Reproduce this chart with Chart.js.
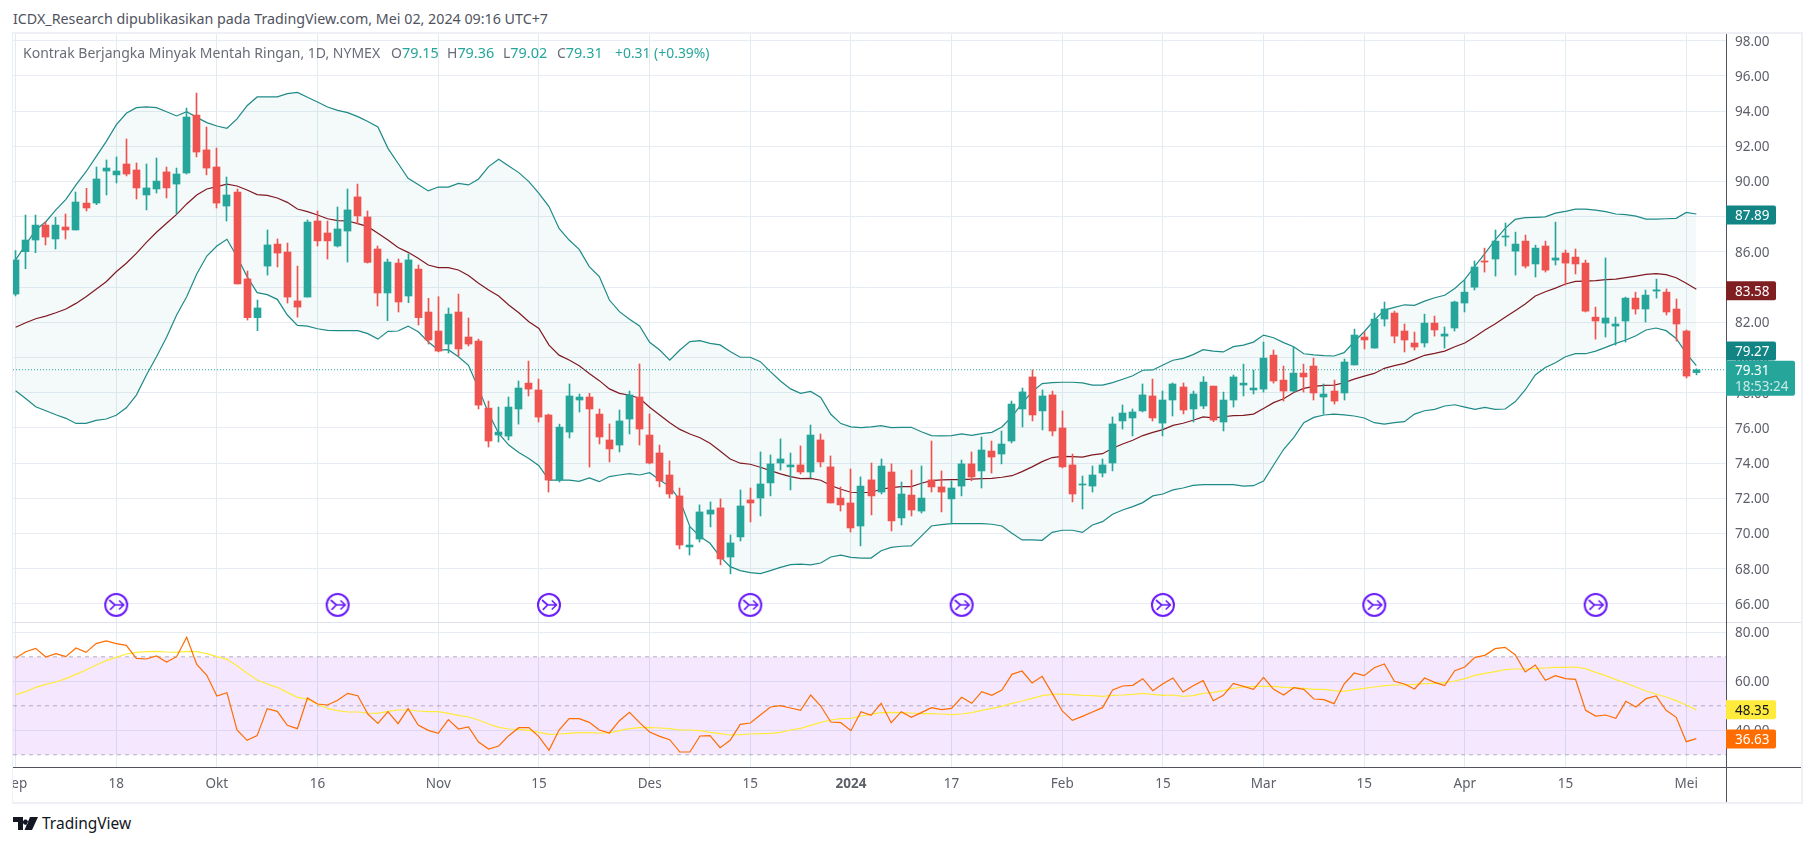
<!DOCTYPE html>
<html><head><meta charset="utf-8">
<script src="https://cdn.jsdelivr.net/npm/chart.js@4"></script>
<style>
html,body{margin:0;padding:0;background:#fff;width:1815px;height:846px;overflow:hidden;font-family:"Noto Sans",sans-serif}
#frame{position:absolute;left:12px;top:32px;width:1788px;height:768px;border:1px solid #eef0f5;border-top:2px solid #eef0f5;border-bottom:2px solid #eef0f5;border-right:2px solid #eef0f5}
#c{position:absolute;left:13px;top:34px}
.t{position:absolute;white-space:nowrap}
#pub{left:13px;top:9px;font-size:14.27px;color:#50535e}
.lg{top:43px;font-size:14px;color:#6a6d78}
.lg b{font-weight:400;color:#26a69a;font-size:14.4px}
.lg b.s{font-size:13.9px}
#tv{left:42px;top:812px;font-size:15.5px;color:#131722}
</style></head><body>
<div id="frame"></div>
<canvas id="c" width="1788" height="768"></canvas>
<div class="t" id="pub">ICDX_Research dipublikasikan pada TradingView.com, Mei 02, 2024 09:16 UTC+7</div>
<div class="t lg" style="left:23px">Kontrak Berjangka Minyak Mentah Ringan, 1D, NYMEX</div>
<div class="t lg" style="left:391px">O<b>79.15</b></div>
<div class="t lg" style="left:447px">H<b>79.36</b></div>
<div class="t lg" style="left:503px">L<b>79.02</b></div>
<div class="t lg" style="left:557px">C<b>79.31</b></div>
<div class="t lg" style="left:615px"><b class="s">+0.31 (+0.39%)</b></div>
<svg style="position:absolute;left:13px;top:817px" width="25" height="13" viewBox="0 0 25 13"><path fill="#131722" d="M0 0h10v13H5V5H0zM17 0h8l-6 13h-7.5zM12.5 2.6a2.6 2.6 0 1 0 .01 0z"/></svg>
<div class="t" id="tv">TradingView</div>
<script>
const opens=[83.61,86.02,86.68,87.53,86.74,87.42,87.25,88.78,88.78,90.6,90.38,91.0,90.66,89.24,89.58,90.55,89.86,90.49,93.78,91.8,90.83,88.61,89.41,84.47,82.27,85.2,86.45,86,83.22,83.44,87.76,87.08,86.34,87.19,89.13,87.99,86.17,83.67,85.37,83.5,85.03,82.59,81.51,80.77,82.59,81.17,80.94,77.13,75.6,75.54,77.08,78.55,78.16,76.74,73.04,75.77,77.59,77.76,76.79,
75.32,75.03,76.51,77.76,75.6,74.58,73.33,72.14,69.24,69.69,71.11,71.46,68.67,69.81,71.91,72.02,72.88,74.01,73.79,73.9,73.5,75.32,73.79,72.02,71.74,70.43,73.05,72.36,73.5,70.89,72.19,71.28,73.05,72.65,71.97,72.7,73.96,73.56,74.69,74.52,75.26,77.08,78.9,76.97,77.88,76,73.9,72.76,72.7,73.44,74.01,76.4,76.57,76.97,77.82,76.28,77.59,78.33,77.08,77.25,
78.38,76.34,77.59,78.44,78.16,78.21,80.14,78.72,78.1,79.12,79.52,77.76,78.1,77.99,79.58,81.17,80.54,82.19,82.53,81.51,80.83,80.83,81.96,81.22,81.68,83.1,84.0,85.49,85.6,86.85,86.05,86.62,85.32,86.34,85.54,85.94,85.71,85.37,82.3,81.96,81.79,82.08,83.38,82.76,83.78,83.72,82.76,81.51,79.15];
const highs=[86.08,88.1,88.1,87.72,87.97,88.16,89.41,89.62,90.83,91.23,91.4,92.42,91.06,91.0,91.34,90.83,90.77,94.18,95.03,93.1,91.91,90.26,89.58,84.92,83.27,87.25,86.74,86.51,85.2,87.82,88.33,87.76,88.56,89.58,89.86,88.33,86.34,85.6,85.6,85.89,85.26,83.37,83.46,82.82,83.61,82.25,81.05,77.53,77.19,77.76,78.67,79.8,78.78,76.79,76.22,78.5,77.93,77.97,77.08,
76.23,77.02,78.1,79.64,76.8,75.03,74.13,72.59,70.38,71.63,71.8,71.97,69.92,72.48,72.59,74.64,74.47,75.38,74.58,74.98,76.17,75.66,74.41,72.65,73.67,73.22,74.01,74.24,73.96,72.93,73.61,73.84,75.26,73.56,73.0,74.18,74.64,75.49,75.26,75.83,77.53,78.27,79.3,78.16,78.1,76.97,74.52,73.27,73.84,74.24,76.63,77.31,77.08,78.5,78.78,78.1,78.56,78.56,78.1,78.92,
78.38,78.04,79.01,79.63,79.29,80.88,80.43,79.52,80.6,79.63,79.97,78.5,78.72,79.92,81.62,81.45,82.53,83.16,82.64,81.91,81.45,82.47,82.36,81.74,83.21,84.41,85.49,86.22,87.25,87.65,87.13,86.96,86.39,86.62,87.7,86.11,86.17,85.54,82.87,85.66,82.3,83.44,83.72,83.84,84.46,83.9,83.33,81.57,79.36];
const lows=[83.5,85.05,85.96,86.4,86.17,86.74,87.25,88.33,88.69,89.24,89.92,90.32,89.01,88.39,89.35,89.07,88.16,90.43,91.4,90.38,88.5,87.76,84.18,82.13,81.53,84.69,85.15,83.1,82.3,83.44,86.34,85.6,86.28,85.43,87.59,85.37,82.93,82.1,82.59,83.12,81.85,80.77,80.32,80.26,80.09,80.66,77.08,74.92,75.2,75.32,76.22,77.82,76.34,72.36,72.93,75.43,76.91,73.78,75.09,
74.07,74.64,75.66,75.03,73.96,72.65,72.02,69.13,68.78,69.52,70.38,68.22,67.71,69.58,70.66,71.0,72.14,73.61,72.48,73.39,73.16,73.79,71.74,71.28,70.09,69.3,71.06,72.25,70.15,70.49,71.0,71.17,72.36,71.23,70.55,72.14,73.0,72.59,73.44,73.96,75.15,76.06,76.4,75.89,75.55,73.73,71.8,71.4,72.36,73.22,73.56,75.94,75.55,76.91,76.4,75.55,76.68,76.8,76.34,77.1,
76.36,75.83,77.19,77.82,77.93,78.04,78.55,77.53,78.04,78.04,77.59,76.79,77.36,77.59,79.58,80.49,80.54,81.79,80.83,80.32,80.43,80.6,81.22,80.54,81.51,82.59,83.84,84.86,84.63,86.34,84.69,85.09,84.58,84.86,85.26,84.12,84.75,82.59,81.05,81.17,80.71,80.88,82.47,82.02,83.38,82.42,80.94,78.84,79.02];
const closes=[85.55,86.68,87.53,86.85,87.53,87.25,88.84,88.5,90.15,90.77,90.6,90.43,89.64,89.64,90.03,89.64,90.43,93.67,91.68,90.77,88.78,89.24,84.18,82.27,82.82,86.4,85.94,83.44,82.87,87.7,86.63,86.63,87.31,88.39,88.05,85.41,83.67,85.43,83.16,85.55,82.27,81,80.37,82.47,80.49,80.77,77.3,75.26,75.77,77.19,78.27,78.21,76.62,73.04,76.05,77.82,77.76,77.08,75.49,
74.81,76.4,77.88,75.94,74.01,72.99,72.25,69.35,69.35,71.23,71.34,68.56,69.47,71.57,71.74,72.82,73.96,74.24,73.9,73.5,75.6,74.07,71.74,71.63,70.32,72.7,72.14,73.84,70.72,72.25,71.34,72.02,72.65,72.36,72.59,73.96,73.22,74.75,74.35,75.09,77.36,78.05,76.74,77.82,75.83,73.79,72.25,72.82,73.33,73.9,76.23,76.85,76.91,77.88,76.57,77.59,78.5,77.02,77.93,78.61,
76.45,77.59,78.9,78.55,78.27,79.97,78.67,78.1,79.12,78.9,77.99,77.93,77.53,79.75,81.28,81.0,82.19,82.76,81.22,81.0,80.6,81.96,81.57,81.34,83.16,83.72,85.15,85.43,86.62,86.91,86.45,85.2,86.22,84.97,85.66,85.37,85.32,82.64,82.08,82.25,81.91,83.38,82.76,83.55,83.85,82.59,81.91,78.95,79.31];
const upperBand=[85.55,86.40,87.25,87.72,88.39,88.99,89.81,90.56,91.42,92.27,93.22,93.88,94.20,94.24,94.20,93.97,93.73,93.97,93.65,93.35,93.16,93.03,93.56,94.31,94.81,94.81,94.81,95.00,95.07,94.79,94.52,94.24,94.05,93.92,93.69,93.41,93.10,91.89,91.04,90.19,89.84,89.47,89.69,89.69,89.90,89.81,90.15,90.85,91.27,90.89,90.51,90.00,89.33,88.58,87.34,86.68,86.15,85.17,84.60,
83.27,82.61,82.18,81.80,80.87,80.43,79.85,80.43,80.91,80.96,80.81,80.72,80.34,80.02,80.02,79.77,79.20,78.67,78.22,77.97,78.08,77.74,76.78,76.25,76.06,76.02,76.06,76.13,76.02,76.04,76.04,75.79,75.57,75.55,75.57,75.66,75.58,75.68,75.75,76.06,76.64,77.40,78.06,78.52,78.58,78.60,78.60,78.56,78.44,78.44,78.58,78.77,78.97,79.28,79.30,79.58,79.85,79.96,80.17,80.45,
80.37,80.32,80.62,80.71,80.88,81.28,81.13,80.85,80.62,80.22,80.15,80.11,80.09,80.28,80.90,81.47,82.13,82.70,82.85,83.0,82.97,83.21,83.40,83.54,83.93,84.44,85.2,85.92,86.68,87.34,87.85,87.95,87.97,88.0,88.21,88.31,88.44,88.44,88.38,88.29,88.16,88.12,88.04,87.87,87.87,87.89,87.91,88.25,88.16];
const lowerBand=[78.12,77.68,77.21,76.98,76.75,76.55,76.26,76.26,76.43,76.51,76.72,77.15,77.87,79.01,80.05,81.15,82.42,83.46,84.75,85.77,86.34,86.72,85.73,84.60,83.69,83.58,83.31,82.42,81.83,81.79,81.64,81.55,81.53,81.53,81.53,81.36,81.05,81.49,81.51,81.79,81.47,80.90,80.43,80.45,80.05,79.56,78.25,76.83,75.69,75.03,74.61,74.27,73.86,73.04,73.04,73.04,72.97,73.16,72.95,
73.24,73.33,73.41,73.33,73.46,73.05,72.67,71.91,70.39,69.83,69.45,68.69,68.12,67.9,67.78,67.73,67.9,68.08,68.24,68.26,68.22,68.33,68.67,68.78,68.65,68.61,68.61,69.03,69.22,69.28,69.3,69.86,70.43,70.51,70.57,70.57,70.57,70.57,70.53,70.43,70.02,69.64,69.64,69.62,70.07,70.19,70.19,70.07,70.49,70.68,71.1,71.34,71.53,71.76,72.14,72.25,72.48,72.59,72.74,72.78,
72.78,72.78,72.78,72.7,72.72,72.99,73.9,74.79,75.45,76.3,76.6,76.74,76.79,76.74,76.68,76.57,76.3,76.22,76.3,76.36,76.79,76.98,77.06,77.25,77.32,77.19,77.06,77.17,77.06,77.08,77.49,78.16,79.01,79.44,79.71,80.05,80.22,80.22,80.37,80.58,80.81,81.0,81.24,81.57,81.68,81.53,81.09,80.24,79.54];
const basisLine=[81.72,81.98,82.21,82.36,82.55,82.76,83.08,83.46,83.88,84.31,84.88,85.36,85.92,86.55,87.12,87.63,88.14,88.73,89.24,89.58,89.71,89.86,89.75,89.52,89.26,89.22,89.07,88.82,88.44,88.29,88.1,87.89,87.78,87.76,87.61,87.44,87.06,86.68,86.25,85.98,85.64,85.26,85.11,85.11,84.98,84.66,84.22,83.84,83.5,82.99,82.55,82.04,81.66,80.71,80.14,79.86,79.54,79.1,78.69,
78.22,77.97,77.86,77.69,77.18,76.74,76.3,75.92,75.66,75.45,75.13,74.69,74.24,74.0,73.94,73.77,73.58,73.39,73.24,73.12,73.14,73.03,72.73,72.52,72.35,72.33,72.35,72.52,72.61,72.67,72.67,72.86,73.01,73.05,73.07,73.07,73.1,73.12,73.14,73.2,73.29,73.52,73.79,74.09,74.32,74.39,74.37,74.35,74.47,74.54,74.85,75.09,75.3,75.57,75.75,75.91,76.15,76.27,76.44,76.63,
76.58,76.64,76.7,76.72,76.79,77.11,77.44,77.66,78.02,78.25,78.36,78.42,78.44,78.57,78.78,78.95,79.1,79.39,79.54,79.67,79.9,80.13,80.24,80.37,80.62,80.83,81.19,81.57,81.91,82.29,82.66,83.04,83.5,83.74,83.95,84.18,84.33,84.35,84.37,84.43,84.46,84.54,84.63,84.73,84.77,84.71,84.54,84.22,83.88];
const rsiValues=[69.37,72.09,73.45,69.92,71.28,70.05,73.59,71.82,75.36,76.45,75.36,74.68,69.37,69.1,70.32,67.88,70.05,77.94,66.92,62.43,54.0,55.36,40.12,35.9,37.81,48.83,47.74,42.02,40.66,53.18,50.73,50.32,52.23,55.09,54.13,46.65,42.84,47.6,42.71,48.83,42.16,39.98,38.76,44.34,40.53,41.34,35.22,32.37,33.59,37.81,41.07,41.07,37.4,31.82,40.12,44.75,44.75,43.25,40.12,
38.9,43.93,47.33,43.11,39.3,37.53,36.17,31.14,31.14,37.67,37.81,32.91,35.9,42.43,42.98,46.24,49.51,50.05,49.1,48.15,54.41,49.92,43.39,43.11,39.85,47.6,46.11,51.0,43.11,47.6,45.29,47.2,49.24,48.42,48.96,53.45,51.0,55.77,54.27,56.45,62.84,64.2,59.3,62.02,55.09,47.88,44.07,45.7,47.47,49.24,56.45,58.08,58.35,61.07,56.17,59.03,61.34,55.63,58.22,60.26,
52.09,54.27,59.17,57.94,56.72,61.62,56.72,54.41,57.4,56.72,52.77,52.5,50.87,58.9,63.39,62.3,65.56,67.06,59.98,58.9,56.86,61.34,59.58,58.22,64.34,65.83,69.78,70.6,73.32,73.86,70.87,63.79,66.65,60.39,62.3,61.07,60.8,48.15,45.83,46.24,44.88,51.82,49.51,52.91,54.0,48.15,45.29,35.36,36.63];
const rsiAverage=[54.54,55.77,57.54,58.76,59.71,61.07,62.84,64.61,66.65,68.42,69.78,71.14,71.82,72.09,72.23,71.96,71.82,72.23,72.09,71.28,70.05,68.96,66.38,63.25,60.53,58.9,57.54,55.49,53.45,52.64,50.6,48.96,48.01,47.47,47.47,47.06,46.92,47.74,48.28,48.28,47.88,47.6,47.6,46.92,46.11,45.43,44.2,42.57,41.21,40.53,40.39,39.98,39.17,38.35,38.49,38.76,39.03,39.03,38.9,
38.9,39.85,40.66,41.07,41.21,40.94,40.66,40.12,40.12,39.85,39.17,38.62,38.08,38.21,38.49,38.62,38.76,39.17,40.12,40.8,42.02,43.25,44.2,44.75,44.88,45.83,46.51,47.2,47.33,47.2,47.06,46.79,46.79,46.65,46.38,46.65,47.2,48.15,48.96,49.78,51.0,51.96,53.05,54.13,54.68,54.81,54.54,54.27,54.13,53.86,54.27,54.41,54.68,55.09,54.68,54.27,54.41,53.86,54.13,55.09,
55.49,56.17,57.13,57.67,57.94,57.94,57.94,57.54,57.4,57.13,56.72,56.72,56.17,55.9,56.58,57.13,57.67,58.22,58.49,58.49,58.76,59.03,59.17,59.44,60.12,61.07,62.43,63.25,63.93,64.75,65.02,65.02,65.15,65.43,65.7,65.7,65.83,65.15,63.66,62.3,60.66,59.3,57.67,56.04,54.81,53.59,52.09,50.32,48.35];
const tickIndex=[0,10,20,30,42,52,63,73,83,93,104,114,124,134,144,154,166];
const tickLabels=["Sep","18","Okt","16","Nov","15","Des","15","2024","17","Feb","15","Mar","15","Apr","15","Mei"];
const rolloverIndex=[10,32,53,73,94,114,135,157];
const rolloverPrice=65.95;
const lastClose=79.31;
const rsiLevels=[70,50,30];

const FONT='"Noto Sans",sans-serif';
const xMin=-0.258,xMax=169.95;
const idx=a=>a.map((y,x)=>({x,y}));
const span=v=>[{x:xMin,y:v},{x:xMax,y:v}];
const candleColor=opens.map((o,i)=>closes[i]>=o?'#26a69a':'#ef5350');

const icon=document.createElement('canvas');icon.width=26;icon.height=26;
(()=>{const g=icon.getContext('2d');g.strokeStyle='#6a1bfa';g.lineWidth=2;
g.beginPath();g.arc(13,13,11,0,Math.PI*2);g.stroke();
g.lineWidth=1.7;g.lineCap='round';g.lineJoin='round';g.beginPath();g.moveTo(6.5,8.5);g.lineTo(11.7,13);g.lineTo(20.5,13);
g.moveTo(7.3,17.3);g.lineTo(11.7,13);g.moveTo(16.3,9);g.lineTo(20.5,13);g.lineTo(16.3,17);g.stroke();})();

const BADGES=[
 {lines:["87.89"],scale:'y',at:88.1,bg:'#128484',fg:'#fff',w:50,h:19},
 {lines:["83.58"],scale:'y',at:83.8,bg:'#801f22',fg:'#fff',w:50,h:19},
 {lines:["79.27"],scale:'y',at:80.375,bg:'#128484',fg:'#fff',w:50,h:19},
 {lines:["79.31","18:53:24"],scale:'y',at:78.82,bg:'#26a69a',fg:'#fff',w:69,h:35},
 {lines:["48.35"],scale:'y2',at:48.37,bg:'#ffeb3b',fg:'#131722',w:50,h:19},
 {lines:["36.63"],scale:'y2',at:36.45,bg:'#ff6d00',fg:'#fff',w:50,h:19}];

const frameLines={id:'frameLines',
 beforeDraw(ch){
  for(const id of ['y','y2']){const s=ch.scales[id];
   if(!s._nudged){const orig=s.getLabelItems.bind(s);s.getLabelItems=a=>orig(a).map(it=>({...it,options:{...it.options,translation:[it.options.translation[0],it.options.translation[1]+1]}}));s._nudged=true;}}
 },
 afterDatasetsUpdate(ch){
  ch.data.datasets.forEach((d,i)=>{if(d.type==='bar')ch.getDatasetMeta(i).data.forEach(e=>{e.x=Math.round(e.x-.5)+.5;});});
 },
 afterDraw(ch){
  const g=ch.ctx,a=ch.chartArea,W=ch.width,H=ch.height;
  g.save();
  const sep=Math.round(ch.scales.y.bottom)+.5;
  g.strokeStyle='#e0e3eb';g.lineWidth=1;g.beginPath();g.moveTo(0,sep);g.lineTo(W,sep);g.stroke();
  g.strokeStyle='#50535e';g.beginPath();
  const rx=Math.round(a.right)+.5,by=Math.round(a.bottom)+.5;
  g.moveTo(rx,0);g.lineTo(rx,H);g.moveTo(0,by);g.lineTo(W,by);g.stroke();
  for(const b of BADGES){
   const cy=ch.scales[b.scale].getPixelForValue(b.at),x=a.right,y=cy-b.h/2;
   g.fillStyle=b.bg;g.beginPath();g.roundRect(x,y,b.w,b.h,[0,2,2,0]);g.fill();
   g.fillStyle=b.fg;g.textBaseline='middle';g.textAlign='left';g.font='13.5px '+FONT;
   if(b.lines.length===1)g.fillText(b.lines[0],x+9,cy+1);
   else{g.fillText(b.lines[0],x+9,cy-7.5);g.globalAlpha=.75;g.fillText(b.lines[1],x+9,cy+9);g.globalAlpha=1;}
  }
  g.restore();
 }};

const lineBase={type:'line',pointRadius:0,borderWidth:1.2,tension:0,fill:false,xAxisID:'x'};
const datasets=[
 {type:'bar',label:'body',grouped:false,order:0,barThickness:7,yAxisID:'y',xAxisID:'x',backgroundColor:candleColor,
  data:opens.map((o,i)=>({x:i,y:[Math.min(o,closes[i]),Math.max(o,closes[i])]}))},
 {type:'bar',label:'wick',grouped:false,order:1,barThickness:1,yAxisID:'y',xAxisID:'x',backgroundColor:candleColor,
  data:lows.map((l,i)=>({x:i,y:[l,highs[i]]}))},
 {type:'scatter',label:'rollover',order:2,yAxisID:'y',xAxisID:'x',pointStyle:icon,pointRadius:13,
  data:rolloverIndex.map(x=>({x,y:rolloverPrice}))},
 {...lineBase,label:'last',order:3,yAxisID:'y',borderColor:'#26a69a',borderWidth:1,borderDash:[1,2],data:span(lastClose)},
 {...lineBase,label:'basis',order:4,yAxisID:'y',borderColor:'#801922',data:idx(basisLine)},
 {...lineBase,label:'upper',order:5,yAxisID:'y',borderColor:'#1f8a87',data:idx(upperBand),fill:{target:6},backgroundColor:'rgba(38,166,154,0.05)'},
 {...lineBase,label:'lower',order:5,yAxisID:'y',borderColor:'#1f8a87',data:idx(lowerBand)},
 {...lineBase,label:'rsi',order:2,yAxisID:'y2',borderColor:'#ff6d00',data:idx(rsiValues)},
 {...lineBase,label:'rsiMA',order:3,yAxisID:'y2',borderColor:'#ffeb3b',data:idx(rsiAverage)},
 {...lineBase,label:'l70',order:8,yAxisID:'y2',borderColor:'rgba(120,123,134,.55)',borderWidth:1,borderDash:[4,4],data:span(rsiLevels[0]),fill:{target:11},backgroundColor:'rgba(170,60,250,0.12)'},
 {...lineBase,label:'l50',order:8,yAxisID:'y2',borderColor:'rgba(120,123,134,.55)',borderWidth:1,borderDash:[4,4],data:span(rsiLevels[1])},
 {...lineBase,label:'l30',order:8,yAxisID:'y2',borderColor:'rgba(120,123,134,.55)',borderWidth:1,borderDash:[4,4],data:span(rsiLevels[2])}
];
const GRID='#e6ecf2';
const yTicks={color:'#5d606b',padding:9,font:{family:FONT,size:13.5},callback:v=>v.toFixed(2),includeBounds:false};
const noPad=s=>{s.paddingTop=0;s.paddingBottom=0;s.paddingLeft=0;s.paddingRight=0;};
new Chart(document.getElementById('c'),{
 data:{datasets},
 plugins:[frameLines],
 options:{responsive:false,animation:false,devicePixelRatio:1,events:[],
  layout:{autoPadding:false,padding:0},
  plugins:{legend:{display:false},tooltip:{enabled:false},title:{display:false}},
  scales:{
   x:{type:'linear',min:xMin,max:xMax,position:'bottom',offset:false,
    afterBuildTicks:s=>{s.ticks=tickIndex.map(value=>({value}));},
    afterFit:s=>{s.height=35;noPad(s);},
    grid:{color:'#e1ebf2',drawTicks:false,offset:false},border:{display:false},
    ticks:{autoSkip:false,maxRotation:0,padding:9,color:'#5d606b',includeBounds:false,
     font:c=>({family:FONT,size:13.5,weight:tickLabels[c.index]==='2024'?'bold':'normal'}),
     callback:(v,i)=>tickLabels[i]}},
   y:{type:'linear',position:'right',stack:'panes',stackWeight:588,min:64.977,max:98.386,
    afterFit:s=>{s.width=75;noPad(s);},
    grid:{color:GRID,drawTicks:false},border:{display:false},ticks:{...yTicks,stepSize:2}},
   y2:{type:'linear',axis:'y',position:'right',stack:'panes',stackWeight:145,min:25.02,max:84.2,
    afterFit:s=>{s.width=75;noPad(s);},
    grid:{color:GRID,drawTicks:false},border:{display:false},ticks:{...yTicks,stepSize:20}}
  }}
});
</script>
</body></html>
